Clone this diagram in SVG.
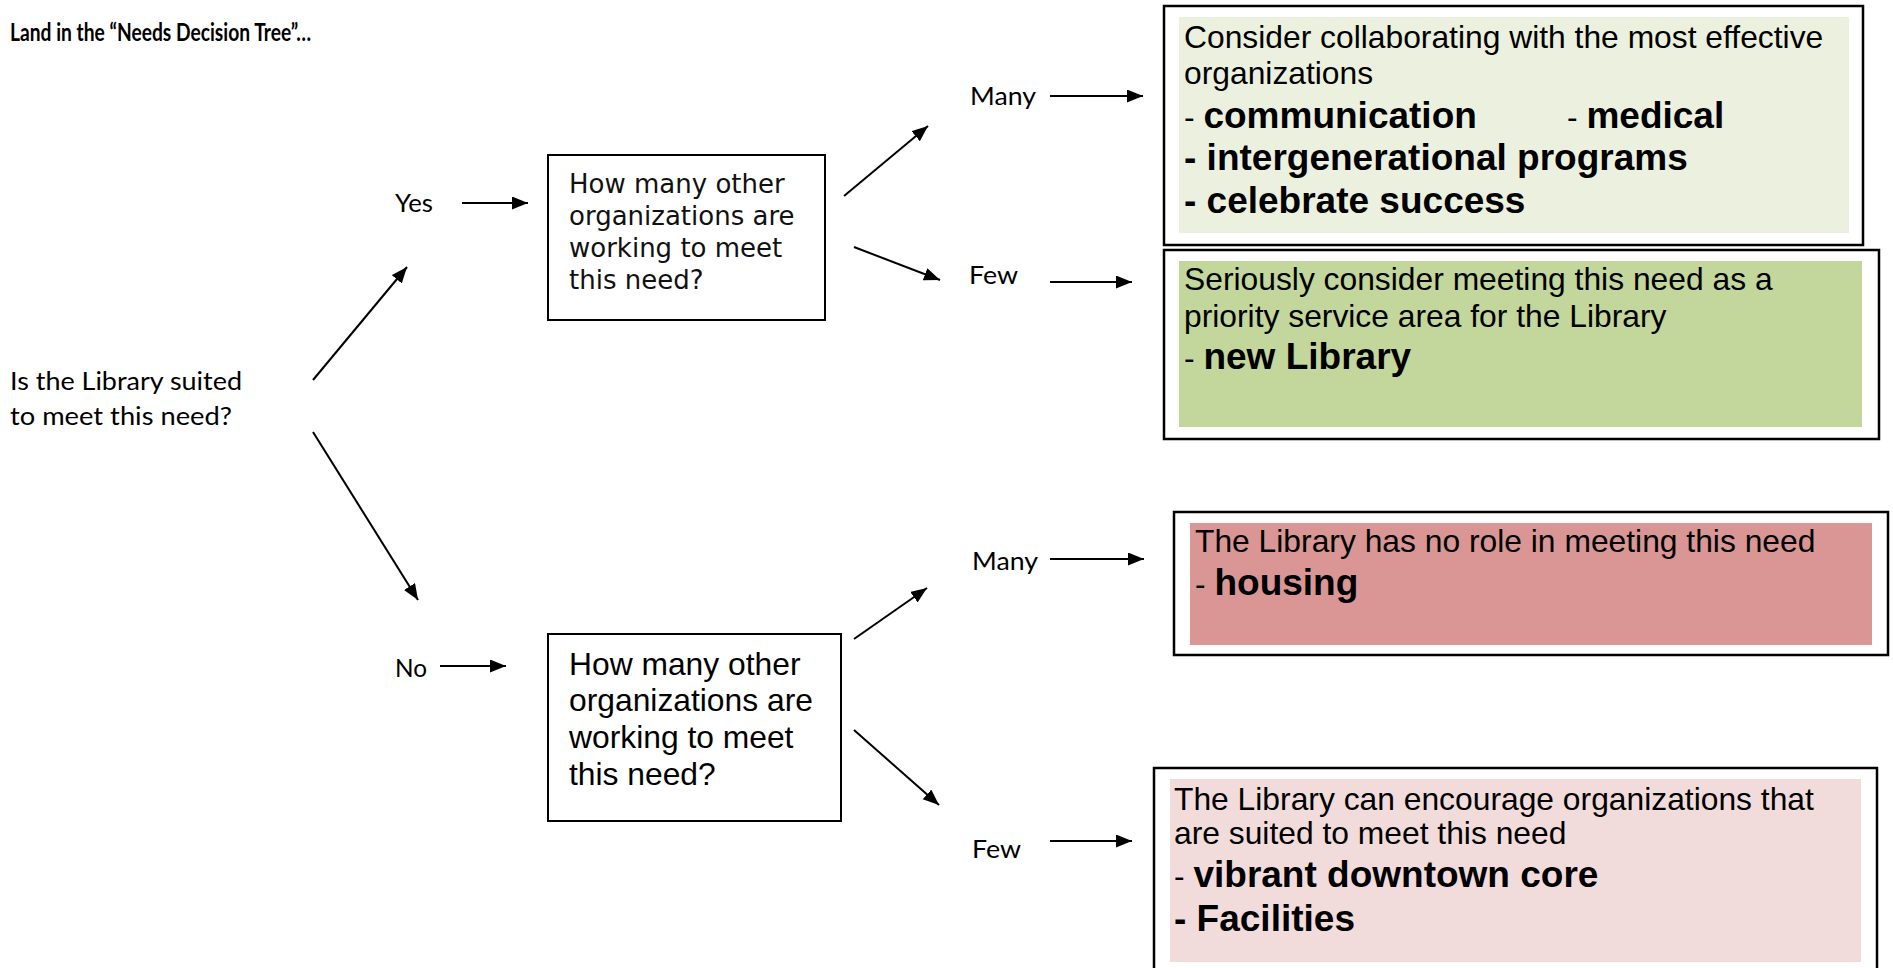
<svg xmlns="http://www.w3.org/2000/svg" width="1893" height="968" viewBox="0 0 1893 968">
<style>
.cal{font-family:Lato,"Open Sans","Liberation Sans",sans-serif;font-size:24.5px;fill:#000}
.calb{font-family:Lato,"Open Sans","Liberation Sans",sans-serif;font-size:25px;font-weight:bold;fill:#000}
.ar{font-family:"Liberation Sans",Arial,sans-serif;font-size:31.8px;fill:#000}
.arb{font-family:"Liberation Sans",Arial,sans-serif;font-size:37px;font-weight:bold;fill:#000}
.ver{font-family:"DejaVu Sans",Verdana,sans-serif;font-size:26px;fill:#111}
.frame{fill:#fff;stroke:#000;stroke-width:2.5}
.qbox{fill:#fff;stroke:#000;stroke-width:2}
.conn line{stroke:#000;stroke-width:2;marker-end:url(#ah)}
</style>
<defs>
<marker id="ah" markerUnits="userSpaceOnUse" markerWidth="17" markerHeight="14" refX="16" refY="6.5" orient="auto">
<path d="M0,0 L16,6.5 L0,13 z" fill="#000"/>
</marker>
</defs>
<rect width="1893" height="968" fill="#fff"/>

<g id="title">
<text class="calb" x="10" y="41" textLength="301" lengthAdjust="spacingAndGlyphs">Land in the “Needs Decision Tree”…</text>
</g>

<g id="root">
<text class="cal" x="10" y="390" textLength="232" lengthAdjust="spacingAndGlyphs">Is the Library suited</text>
<text class="cal" x="10" y="425" textLength="222" lengthAdjust="spacingAndGlyphs">to meet this need?</text>
</g>

<g id="label-yes"><text class="cal" x="395" y="212" textLength="38" lengthAdjust="spacingAndGlyphs">Yes</text></g>
<g id="label-no"><text class="cal" x="395" y="677" textLength="32" lengthAdjust="spacingAndGlyphs">No</text></g>
<g id="label-many-top"><text class="cal" x="970" y="105" textLength="66" lengthAdjust="spacingAndGlyphs">Many</text></g>
<g id="label-few-top"><text class="cal" x="969" y="284" textLength="49" lengthAdjust="spacingAndGlyphs">Few</text></g>
<g id="label-many-bottom"><text class="cal" x="972" y="570" textLength="66" lengthAdjust="spacingAndGlyphs">Many</text></g>
<g id="label-few-bottom"><text class="cal" x="972" y="858" textLength="49" lengthAdjust="spacingAndGlyphs">Few</text></g>

<g id="q-yes">
<rect class="qbox" x="548" y="155" width="277" height="165"/>
<text class="ver" x="569" y="193">How many other</text>
<text class="ver" x="569" y="225">organizations are</text>
<text class="ver" x="569" y="257">working to meet</text>
<text class="ver" x="569" y="289">this need?</text>
</g>

<g id="q-no">
<rect class="qbox" x="548" y="634" width="293" height="187"/>
<text class="ar" x="569" y="675">How many other</text>
<text class="ar" x="569" y="711">organizations are</text>
<text class="ar" x="569" y="748">working to meet</text>
<text class="ar" x="569" y="785">this need?</text>
</g>

<g id="result-collaborate">
<rect class="frame" x="1164" y="6" width="699" height="239"/>
<rect x="1179" y="17" width="670" height="216" fill="#EBF1DE"/>
<text class="ar" x="1184" y="48">Consider collaborating with the most effective</text>
<text class="ar" x="1184" y="84">organizations</text>
<text x="1184" y="128"><tspan class="ar">- </tspan><tspan class="arb">communication</tspan></text>
<text x="1567" y="128"><tspan class="ar">- </tspan><tspan class="arb">medical</tspan></text>
<text class="arb" x="1184" y="170">- intergenerational programs</text>
<text class="arb" x="1184" y="213">- celebrate success</text>
</g>

<g id="result-priority">
<rect class="frame" x="1164" y="250" width="715" height="189"/>
<rect x="1179" y="261" width="683" height="166" fill="#C3D69B"/>
<text class="ar" x="1184" y="290">Seriously consider meeting this need as a</text>
<text class="ar" x="1184" y="327">priority service area for the Library</text>
<text x="1184" y="369"><tspan class="ar">- </tspan><tspan class="arb">new Library</tspan></text>
</g>

<g id="result-norole">
<rect class="frame" x="1174" y="512" width="714" height="143"/>
<rect x="1190" y="523" width="682" height="122" fill="#D99694"/>
<text class="ar" x="1195" y="552">The Library has no role in meeting this need</text>
<text x="1195" y="595"><tspan class="ar">- </tspan><tspan class="arb">housing</tspan></text>
</g>

<g id="result-encourage">
<rect class="frame" x="1154" y="768" width="723" height="220"/>
<rect x="1170" y="779" width="691" height="183" fill="#F2DCDB"/>
<text class="ar" x="1174" y="810">The Library can encourage organizations that</text>
<text class="ar" x="1174" y="844">are suited to meet this need</text>
<text x="1174" y="887"><tspan class="ar">- </tspan><tspan class="arb">vibrant downtown core</tspan></text>
<text class="arb" x="1174" y="931">- Facilities</text>
</g>

<g id="connectors" class="conn">
<line x1="313" y1="380" x2="407" y2="267"/>
<line x1="313" y1="432" x2="418" y2="600"/>
<line x1="462" y1="203" x2="528" y2="203"/>
<line x1="440" y1="666" x2="506" y2="666"/>
<line x1="844" y1="196" x2="928" y2="126"/>
<line x1="854" y1="247" x2="940" y2="280"/>
<line x1="1050" y1="96" x2="1143" y2="96"/>
<line x1="1050" y1="282" x2="1132" y2="282"/>
<line x1="854" y1="639" x2="927" y2="588"/>
<line x1="854" y1="730" x2="939" y2="805"/>
<line x1="1050" y1="559" x2="1144" y2="559"/>
<line x1="1050" y1="841" x2="1132" y2="841"/>
</g>
</svg>
